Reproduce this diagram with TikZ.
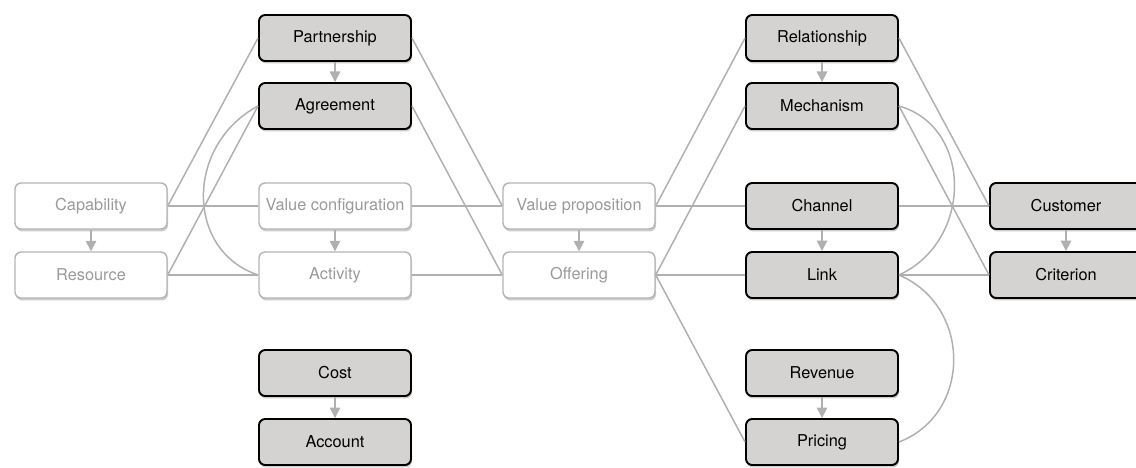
\documentclass[tikz,border=0pt]{standalone}
\usepackage{fontspec}
\setmainfont{TeX Gyre Heros}
\usetikzlibrary{arrows.meta, shadows}

\definecolor{boxgray}{HTML}{D4D3D2}
\definecolor{paleedge}{HTML}{B4B4B4}
\definecolor{paletext}{HTML}{9A9A9A}
\definecolor{conngray}{HTML}{B0B0B0}

\begin{document}
\begin{tikzpicture}[
    box/.style={rectangle, draw=black, line width=1.1pt, fill=boxgray, rounded corners=3.5pt, minimum width=3.04cm, minimum height=0.92cm, align=center, font=\fontsize{9.3}{11}\selectfont, drop shadow={shadow xshift=0.6pt, shadow yshift=-1.4pt, opacity=0.4}},
    pale/.style={box, draw=paleedge, line width=0.8pt, fill=white, text=paletext},
    arrow/.style={-{Triangle[width=6pt,length=6pt]}, conngray, line width=0.85pt},
    conn/.style={conngray, line width=0.85pt}
]
\useasboundingbox (0,0) rectangle (22.72,-9.34);

\node[pale] (cap) at (1.82,-4.12) {Capability};
\node[pale] (res) at (1.82,-5.5) {Resource};

\node[box] (part) at (6.7,-0.76) {Partnership};
\node[box] (agr) at (6.7,-2.12) {Agreement};
\node[pale] (vconf) at (6.7,-4.12) {Value configuration};
\node[pale] (act) at (6.7,-5.5) {Activity};
\node[box] (cost) at (6.7,-7.46) {Cost};
\node[box] (acc) at (6.7,-8.84) {Account};

\node[pale] (vprop) at (11.58,-4.12) {Value proposition};
\node[pale] (off) at (11.58,-5.5) {Offering};

\node[box] (rel) at (16.44,-0.76) {Relationship};
\node[box] (mech) at (16.44,-2.12) {Mechanism};
\node[box] (chan) at (16.44,-4.12) {Channel};
\node[box] (link) at (16.44,-5.5) {Link};
\node[box] (rev) at (16.44,-7.46) {Revenue};
\node[box] (pric) at (16.44,-8.84) {Pricing};

\node[box] (cust) at (21.32,-4.12) {Customer};
\node[box] (crit) at (21.32,-5.5) {Criterion};

\draw[arrow] (cap) -- (res);
\draw[arrow] (part) -- (agr);
\draw[arrow] (vconf) -- (act);
\draw[arrow] (cost) -- (acc);
\draw[arrow] (vprop) -- (off);
\draw[arrow] (rel) -- (mech);
\draw[arrow] (chan) -- (link);
\draw[arrow] (rev) -- (pric);
\draw[arrow] (cust) -- (crit);

\draw[conn] (cap.east) -- (part.west);
\draw[conn] (cap.east) -- (vconf.west);
\draw[conn] (res.east) -- (agr.west);
\draw[conn] (res.east) -- (act.west);
\draw[conn] (agr.west) .. controls +(-1.46,-0.78) and +(-1.46,0.48) .. (act.west);
\draw[conn] (part.east) -- (vprop.west);
\draw[conn] (agr.east) -- (off.west);
\draw[conn] (vconf.east) -- (vprop.west);
\draw[conn] (act.east) -- (off.west);
\draw[conn] (vprop.east) -- (rel.west);
\draw[conn] (vprop.east) -- (chan.west);
\draw[conn] (off.east) -- (mech.west);
\draw[conn] (off.east) -- (link.west);
\draw[conn] (off.east) -- (pric.west);
\draw[conn] (rel.east) -- (cust.west);
\draw[conn] (mech.east) -- (crit.west);
\draw[conn] (chan.east) -- (cust.west);
\draw[conn] (link.east) -- (crit.west);
\draw[conn] (mech.east) .. controls +(1.48,-0.42) and +(1.48,0.68) .. (link.east);
\draw[conn] (link.east) .. controls +(1.46,-0.62) and +(1.46,0.56) .. (pric.east);
\end{tikzpicture}
\end{document}
